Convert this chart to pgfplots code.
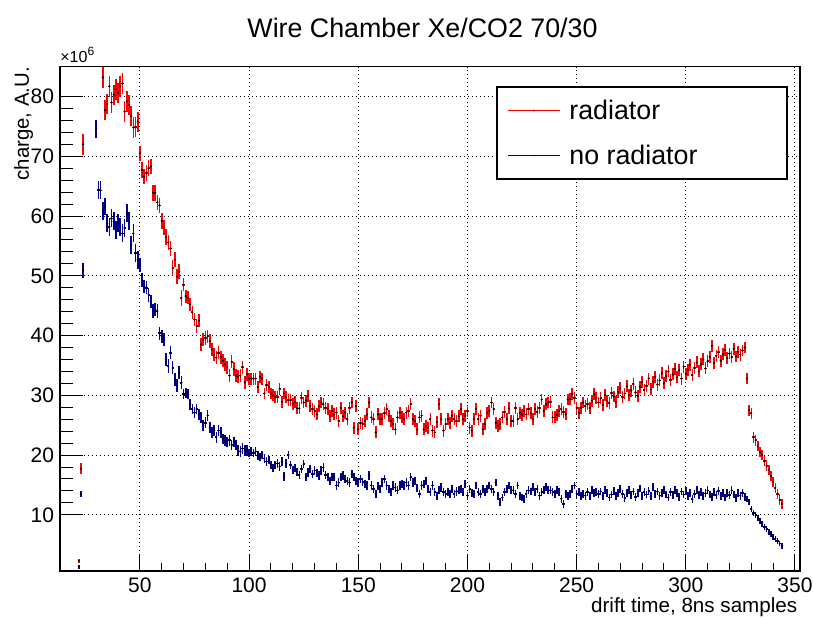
\documentclass[border=0pt]{standalone}
\usepackage{pgfplots}
\usepackage{pgfplotstable}
\usepackage{fontspec}
\setmainfont{Liberation Sans}
\pgfplotsset{compat=1.18}
\usetikzlibrary{calc}

\definecolor{rootred}{RGB}{255,0,0}
\definecolor{rootblue}{RGB}{0,0,153}

% bin, charge (x10^6), error
\pgfplotstableread{
x y e
22 2.3 0.3
23 17.7 0.9
24 72.0 1.7
33 83.2 1.7
34 77.7 1.7
35 78.8 1.7
36 81.7 1.7
37 79.0 1.7
38 80.3 1.7
39 81.2 1.7
40 80.6 1.7
41 81.7 1.7
42 82.2 1.7
43 77.5 1.7
44 79.2 1.7
45 78.6 1.7
46 76.7 1.7
47 74.8 1.7
48 74.9 1.7
49 75.8 1.7
50 70.5 1.3
51 67.7 1.3
52 66.6 1.3
53 67.2 1.3
54 68.0 1.3
55 68.3 1.3
56 63.9 1.3
57 63.9 1.3
58 62.3 1.3
59 61.8 1.3
60 59.2 1.3
61 58.1 1.3
62 56.5 1.3
63 55.6 1.3
64 54.6 1.3
65 51.3 1.3
66 52.7 1.3
67 49.9 1.3
68 50.7 1.3
69 46.3 1.3
70 48.5 1.1
71 46.6 1.1
72 46.3 1.1
73 45.2 1.1
74 43.9 1.1
75 42.7 1.1
76 41.6 1.1
77 42.5 1.1
78 38.5 1.1
79 39.3 1.1
80 39.6 1.1
81 39.9 1.1
82 39.1 1.1
83 37.7 1.1
84 36.8 1.1
85 36.3 1.1
86 37.1 1.1
87 36.4 1.1
88 35.8 1.1
89 35.2 1.1
90 34.7 1.1
91 33.3 1.1
92 35.6 1.1
93 34.4 1.1
94 33.3 1.1
95 33.1 1.1
96 33.3 1.1
97 34.7 1.1
98 32.2 1.1
99 33.5 1.1
100 32.8 1.0
101 32.8 1.0
102 32.8 1.0
103 32.8 1.0
104 31.4 1.0
105 33.1 1.0
106 32.8 1.0
107 30.3 1.0
108 31.7 1.0
109 31.4 1.0
110 30.3 1.0
111 30.0 1.0
112 29.7 1.0
113 29.7 1.0
114 31.1 1.0
115 28.9 1.0
116 30.3 1.0
117 29.7 1.0
118 29.2 1.0
119 29.2 1.0
120 28.6 1.0
121 28.9 1.0
122 27.8 1.0
123 27.8 1.0
124 29.6 1.0
125 28.8 1.0
126 29.1 1.0
127 29.9 1.0
128 28.2 1.0
129 27.7 1.0
130 27.4 1.0
131 26.8 1.0
132 28.2 1.0
133 28.8 1.0
134 28.5 1.0
135 27.9 1.0
136 27.7 1.0
137 26.6 1.0
138 27.4 1.0
139 26.8 1.0
140 27.1 1.0
141 25.7 1.0
142 27.9 1.0
143 26.5 1.0
144 27.1 1.0
145 26.0 1.0
146 27.9 1.0
147 28.8 1.0
148 24.6 1.0
149 28.2 1.0
150 24.3 1.0
151 25.4 1.0
152 25.2 1.0
153 25.7 1.0
154 26.8 1.0
155 28.8 1.0
156 26.3 1.0
157 26.0 1.0
158 23.8 1.0
159 26.8 1.0
160 26.0 1.0
161 26.0 1.0
162 27.0 1.0
163 27.7 1.0
164 26.6 1.0
165 25.7 1.0
166 25.2 1.0
167 24.3 1.0
168 26.3 1.0
169 27.1 1.0
170 26.3 1.0
171 26.0 1.0
172 27.1 1.0
173 27.4 1.0
174 28.5 1.0
175 26.0 1.0
176 25.7 1.0
177 24.3 1.0
178 26.3 1.0
179 26.6 1.0
180 24.3 1.0
181 24.9 1.0
182 24.6 1.0
183 26.0 1.0
184 24.1 1.0
185 23.8 1.0
186 25.5 1.0
187 28.5 1.0
188 26.0 1.0
189 24.1 1.0
190 25.2 1.0
191 26.0 1.0
192 25.4 1.0
193 26.6 1.0
194 26.0 1.0
195 25.7 1.0
196 26.5 1.0
197 27.7 1.0
198 26.0 1.0
199 26.6 1.0
200 27.4 1.0
201 24.6 1.0
202 24.1 1.0
203 26.0 1.0
204 27.7 1.0
205 26.0 1.0
206 26.6 1.0
207 24.3 1.0
208 25.2 1.0
209 27.1 1.0
210 27.4 1.0
211 28.8 1.0
212 27.7 1.0
213 25.4 1.0
214 24.9 1.0
215 25.2 1.0
216 26.3 1.0
217 27.2 1.0
218 26.0 1.0
219 27.8 1.0
220 25.7 1.0
221 25.7 1.0
222 27.9 1.0
223 26.0 1.0
224 27.1 1.0
225 26.7 1.0
226 27.4 1.0
227 26.8 1.0
228 27.7 1.0
229 27.0 1.0
230 26.0 1.0
231 27.7 1.0
232 27.2 1.0
233 27.9 1.0
234 29.3 1.0
235 27.4 1.0
236 28.5 1.0
237 28.8 1.0
238 28.9 1.0
239 26.3 1.0
240 26.3 1.0
241 26.7 1.0
242 27.4 1.0
243 27.7 1.0
244 27.2 1.0
245 26.8 1.0
246 29.3 1.0
247 29.4 1.0
248 30.2 1.0
249 29.6 1.0
250 27.9 1.0
251 27.1 1.0
252 27.9 1.0
253 28.8 1.0
254 28.2 1.0
255 28.5 1.0
256 27.9 1.0
257 29.1 1.0
258 30.2 1.0
259 29.6 1.0
260 28.8 1.0
261 29.5 1.0
262 28.4 1.0
263 30.1 1.0
264 29.0 1.0
265 28.7 1.0
266 30.4 1.0
267 29.8 1.0
268 28.9 1.0
269 30.6 1.0
270 31.2 1.0
271 29.7 1.0
272 30.3 1.0
273 31.5 1.0
274 30.0 1.0
275 30.8 1.0
276 31.9 1.0
277 30.5 1.0
278 29.9 1.0
279 31.4 1.0
280 32.2 1.0
281 30.9 1.0
282 31.6 1.0
283 32.8 1.0
284 31.0 1.0
285 32.3 1.0
286 33.1 1.0
287 31.8 1.0
288 32.5 1.0
289 33.7 1.0
290 32.0 1.0
291 33.2 1.0
292 34.0 1.0
293 32.6 1.0
294 33.5 1.0
295 34.4 1.0
296 33.0 1.0
297 34.2 1.0
298 32.8 1.0
299 34.8 1.0
300 33.6 1.0
301 34.3 1.0
302 35.1 1.0
303 33.4 1.0
304 34.6 1.0
305 35.5 1.0
306 34.0 1.0
307 35.2 1.0
308 36.0 1.0
309 34.5 1.0
310 35.7 1.0
311 36.4 1.0
312 38.3 1.0
313 35.4 1.0
314 36.6 1.0
315 37.2 1.0
316 35.8 1.0
317 36.9 1.0
318 37.6 1.0
319 36.2 1.0
320 37.0 1.0
321 36.4 1.0
322 37.8 1.0
323 36.5 1.0
324 37.3 1.0
325 36.8 1.0
326 37.5 1.0
327 38.0 1.0
328 32.8 0.9
329 27.5 0.9
330 27.0 0.9
331 23.0 0.9
332 22.5 0.9
333 21.5 0.9
334 20.5 0.9
335 20.0 0.9
336 19.0 0.9
337 18.2 0.9
338 17.5 0.9
339 16.5 0.9
340 15.5 0.9
341 14.5 0.9
342 13.5 0.9
343 12.5 0.9
344 11.8 0.9
}\radiator

\pgfplotstableread{
x y e
22 1.3 0.3
23 13.5 0.5
24 50.9 1.3
30 74.6 1.5
31 64.4 1.5
32 64.3 1.5
33 60.8 1.5
34 61.6 1.5
35 58.8 1.5
36 58.2 1.5
37 59.6 1.5
38 59.1 1.5
39 57.7 1.5
40 58.8 1.5
41 58.2 1.5
42 57.1 1.5
43 58.0 1.5
44 60.5 1.5
45 59.1 1.5
46 55.2 1.5
47 57.1 1.5
48 53.8 1.5
49 52.7 1.5
50 51.8 1.1
51 49.3 1.1
52 48.2 1.1
53 48.0 1.1
54 46.8 1.1
55 45.7 1.1
56 44.1 1.1
57 44.3 1.1
58 44.1 1.1
59 40.4 1.1
60 39.9 1.1
61 39.3 1.1
62 36.0 1.1
63 34.9 1.1
64 37.1 1.1
65 34.6 1.1
66 32.7 1.1
67 31.6 1.1
68 33.8 1.1
69 32.1 1.1
70 30.2 0.9
71 30.4 0.9
72 30.2 0.9
73 28.5 0.9
74 27.7 0.9
75 27.1 0.9
76 27.7 0.9
77 26.8 0.9
78 26.3 0.9
79 24.9 0.9
80 25.4 0.9
81 26.6 0.9
82 24.6 0.9
83 23.8 0.9
84 24.1 0.9
85 23.0 0.9
86 24.1 0.9
87 23.8 0.9
88 22.7 0.9
89 22.4 0.9
90 22.2 0.9
91 22.5 0.9
92 21.7 0.9
93 22.2 0.9
94 21.7 0.9
95 20.8 0.9
96 20.6 0.9
97 21.1 0.9
98 20.8 0.9
99 20.8 0.9
100 20.3 0.7
101 20.6 0.7
102 20.3 0.7
103 20.6 0.7
104 19.9 0.7
105 19.7 0.7
106 20.0 0.7
107 19.4 0.7
108 18.9 0.7
109 19.2 0.7
110 18.3 0.7
111 17.8 0.7
112 18.3 0.7
113 18.6 0.7
114 18.1 0.7
115 18.9 0.7
116 16.4 0.7
117 18.6 0.7
118 20.0 0.7
119 18.3 0.7
120 17.5 0.7
121 17.8 0.7
122 17.2 0.7
123 16.7 0.7
124 17.7 0.7
125 18.5 0.7
126 16.3 0.7
127 17.1 0.7
128 17.7 0.7
129 16.8 0.7
130 17.4 0.7
131 17.0 0.7
132 16.6 0.7
133 17.4 0.7
134 17.9 0.7
135 16.7 0.7
136 16.3 0.7
137 15.7 0.7
138 16.3 0.7
139 16.3 0.7
140 14.9 0.7
141 15.4 0.7
142 16.3 0.7
143 16.6 0.7
144 16.0 0.7
145 15.7 0.7
146 15.4 0.7
147 16.8 0.7
148 16.3 0.7
149 15.7 0.7
150 15.4 0.7
151 16.0 0.7
152 15.5 0.7
153 15.2 0.7
154 14.9 0.7
155 16.6 0.7
156 14.9 0.7
157 14.3 0.7
158 13.5 0.7
159 14.8 0.7
160 14.3 0.7
161 15.4 0.7
162 16.0 0.7
163 14.9 0.7
164 14.3 0.7
165 13.8 0.7
166 14.9 0.7
167 14.6 0.7
168 14.1 0.7
169 14.9 0.7
170 15.2 0.7
171 14.9 0.7
172 15.4 0.7
173 14.9 0.7
174 16.3 0.7
175 15.4 0.7
176 15.7 0.7
177 14.5 0.7
178 13.5 0.7
179 14.9 0.7
180 15.2 0.7
181 15.7 0.7
182 14.3 0.7
183 13.8 0.7
184 14.9 0.7
185 13.8 0.7
186 13.2 0.7
187 14.1 0.7
188 14.6 0.7
189 13.8 0.7
190 13.5 0.7
191 13.8 0.7
192 13.5 0.7
193 14.3 0.7
194 13.5 0.7
195 13.9 0.7
196 14.1 0.7
197 14.3 0.7
198 13.8 0.7
199 15.2 0.7
200 13.2 0.65
201 14.3 0.65
202 13.7 0.65
203 13.5 0.65
204 14.9 0.65
205 13.8 0.65
206 13.5 0.65
207 14.3 0.65
208 13.8 0.65
209 14.3 0.65
210 14.9 0.65
211 14.3 0.65
212 13.8 0.65
213 15.4 0.65
214 13.2 0.65
215 12.1 0.65
216 12.9 0.65
217 13.8 0.65
218 14.3 0.65
219 14.9 0.65
220 14.1 0.65
221 14.1 0.65
222 13.5 0.65
223 14.9 0.65
224 13.2 0.65
225 12.9 0.65
226 12.7 0.65
227 13.5 0.65
228 14.1 0.65
229 13.9 0.65
230 14.6 0.65
231 13.8 0.65
232 14.3 0.65
233 13.2 0.65
234 13.8 0.65
235 14.1 0.65
236 14.6 0.65
237 14.2 0.65
238 14.1 0.65
239 13.8 0.65
240 13.5 0.65
241 14.1 0.65
242 13.8 0.65
243 12.7 0.65
244 11.8 0.65
245 13.5 0.65
246 13.2 0.65
247 13.5 0.65
248 14.3 0.65
249 14.9 0.65
250 13.5 0.65
251 13.8 0.65
252 13.2 0.65
253 13.5 0.65
254 13.2 0.65
255 13.8 0.65
256 13.2 0.65
257 14.1 0.65
258 13.6 0.65
259 13.8 0.65
260 13.5 0.65
261 13.9 0.65
262 13.2 0.65
263 14.2 0.65
264 13.6 0.65
265 12.9 0.65
266 13.4 0.65
267 14.0 0.65
268 13.1 0.65
269 13.7 0.65
270 14.3 0.65
271 13.5 0.65
272 12.8 0.65
273 13.6 0.65
274 14.1 0.65
275 13.3 0.65
276 13.9 0.65
277 13.0 0.65
278 13.6 0.65
279 14.4 0.65
280 13.2 0.65
281 13.8 0.65
282 13.4 0.65
283 14.0 0.65
284 13.1 0.65
285 14.7 0.65
286 13.5 0.65
287 13.9 0.65
288 13.2 0.65
289 13.7 0.65
290 14.2 0.65
291 13.4 0.65
292 12.9 0.65
293 13.8 0.65
294 13.3 0.65
295 14.1 0.65
296 13.6 0.65
297 13.0 0.65
298 13.9 0.65
299 13.4 0.65
300 14.0 0.65
301 13.2 0.65
302 13.7 0.65
303 12.6 0.65
304 13.5 0.65
305 14.2 0.65
306 13.3 0.65
307 13.8 0.65
308 13.1 0.65
309 13.6 0.65
310 14.1 0.65
311 13.4 0.65
312 13.0 0.65
313 13.8 0.65
314 13.3 0.65
315 14.0 0.65
316 13.2 0.65
317 13.6 0.65
318 12.9 0.65
319 13.7 0.65
320 13.3 0.65
321 14.1 0.65
322 13.4 0.65
323 12.8 0.65
324 13.6 0.65
325 13.2 0.65
326 13.7 0.65
327 13.0 0.65
328 12.6 0.5
329 12.2 0.5
330 11.0 0.5
331 10.3 0.5
332 9.9 0.5
333 9.4 0.5
334 9.0 0.5
335 8.5 0.5
336 8.0 0.5
337 7.6 0.5
338 7.1 0.5
339 6.8 0.5
340 6.3 0.5
341 6.0 0.5
342 5.6 0.5
343 5.2 0.5
344 4.8 0.5
}\noradiator

\begin{document}
\begin{tikzpicture}
\begin{axis}[
    scale only axis,
    width=370pt, height=252.15pt,
    xmin=13.4, xmax=352.3,
    ymin=0.6, ymax=85,
    xtick={50,100,...,350},
    ytick={10,20,...,80},
    minor x tick num=4,
    minor y tick num=4,
    tick align=inside,
    xtick pos=lower, ytick pos=left,
    xtick style={/pgfplots/major tick length=8pt, /pgfplots/minor tick length=4pt},
    ytick style={/pgfplots/major tick length=11.5pt, /pgfplots/minor tick length=6.3pt},
    every tick/.style={black, line width=0.5pt},
    grid=major,
    major grid style={black, line width=0.5pt, dash pattern=on 0.5pt off 1.5pt},
    axis line style={black, line width=0.6pt},
    tick label style={font=\fontsize{10.5}{12}\selectfont},
    xticklabel style={yshift=0.3pt},
    yticklabel style={xshift=0.5pt},
    /pgf/number format/assume math mode=true,
    clip=true,
]
\addplot[only marks, mark=*, mark size=0.3pt, mark options={black},
    error bars/.cd, y dir=both, y explicit, x dir=both, x fixed=0.5,
    error mark=none, error bar style={rootred, line width=0.8pt}]
    table[x=x, y=y, y error=e] {\radiator};
\addplot[only marks, mark=*, mark size=0.3pt, mark options={black},
    error bars/.cd, y dir=both, y explicit, x dir=both, x fixed=0.5,
    error mark=none, error bar style={rootblue, line width=0.8pt}]
    table[x=x, y=y, y error=e] {\noradiator};
\end{axis}

\coordinate (SW) at (current axis.south west);
\coordinate (NE) at (current axis.north east);
\coordinate (NW) at (SW |- NE);
\coordinate (SE) at (NE |- SW);

% title
\node[anchor=base, inner sep=0pt, font=\fontsize{13.4}{16}\selectfont]
    at ($(NW)+(181.25pt,14.35pt)$) {Wire Chamber Xe/CO2 70/30};
% exponent
\node[anchor=base west, inner sep=0pt, font=\fontsize{8}{9}\selectfont]
    at ($(NW)+(0pt,1.85pt)$) {×10\raisebox{0.45em}{\fontsize{6}{7}\selectfont 6}};
% axis titles
\node[rotate=90, anchor=base east, inner sep=0pt, font=\fontsize{10.2}{12}\selectfont]
    at ($(NW)+(-15.5pt,0pt)$) {charge, A.U.};
\node[anchor=base east, inner sep=0pt, font=\fontsize{10.3}{12}\selectfont]
    at ($(SE)+(-1.2pt,-20.6pt)$) {drift time, 8ns samples};

% legend
\draw[black, line width=1pt, fill=white] ($(SW)+(218.75pt,196pt)$) rectangle ($(SW)+(363.35pt,241.85pt)$);
\draw[rootred, line width=0.6pt] ($(SW)+(224pt,230.15pt)$) -- ($(SW)+(250pt,230.15pt)$);
\fill[black] ($(SW)+(237pt,230.15pt)$) circle (0.3pt);
\draw[rootblue, line width=0.6pt] ($(SW)+(224pt,207.65pt)$) -- ($(SW)+(250pt,207.65pt)$);
\fill[black] ($(SW)+(237pt,207.65pt)$) circle (0.3pt);
\node[anchor=base west, inner sep=0pt, font=\fontsize{13.4}{16}\selectfont]
    at ($(SW)+(254.5pt,225.5pt)$) {radiator};
\node[anchor=base west, inner sep=0pt, font=\fontsize{13.4}{16}\selectfont]
    at ($(SW)+(254.5pt,203.25pt)$) {no radiator};

\pgfresetboundingbox
\path[use as bounding box] ($(SW)+(-30pt,-23.5pt)$) rectangle ($(NE)+(6.5pt,33.35pt)$);
\end{tikzpicture}
\end{document}
